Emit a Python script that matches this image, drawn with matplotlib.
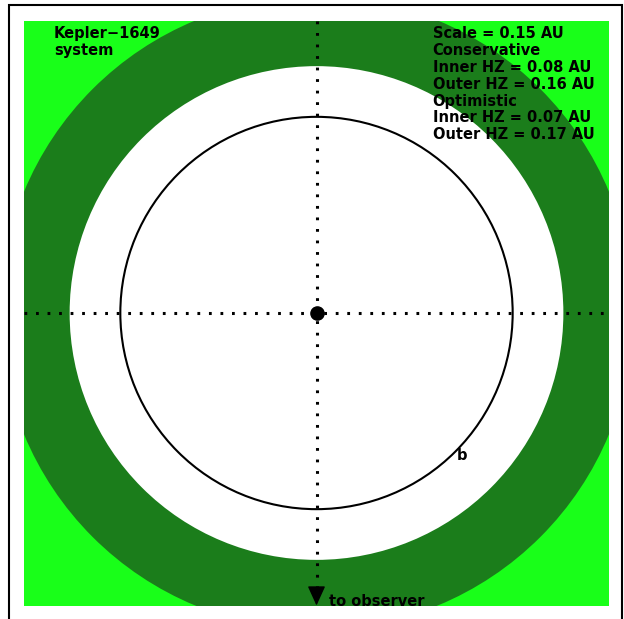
import matplotlib
matplotlib.use("Agg")
import matplotlib.pyplot as plt
from matplotlib.patches import Circle, Rectangle

plt.rcParams['font.family'] = ['DejaVu Sans']
plt.rcParams['lines.scale_dashes'] = False

# ---- data (AU) ----
system_name = "Kepler\u22121649"
scale_au = 0.15
half_width = scale_au / 2
cons_hz = [0.08, 0.16]
opt_hz = [0.07, 0.17]
# drawn radii (AU in plot units)
ring_outer = 0.0812
ring_inner = 0.0633
planet_names = ["b"]
planet_orbits = [0.0503]
planet_label_pos = [(0.0373, -0.0365)]

light_green = "#19ff19"
dark_green = "#1b7d1b"

FS = 10.5
FW = 'bold'

fig = plt.figure(figsize=(6.24, 6.19), dpi=100)
ax = fig.add_axes([24 / 624, 1 - 605.5 / 619, 585 / 624, 585 / 619])
ax.set_xlim(-half_width, half_width)
ax.set_ylim(-half_width, half_width)
ax.set_aspect('auto')
for s in ax.spines.values():
    s.set_visible(False)
ax.set_xticks([])
ax.set_yticks([])
ax.set_facecolor(light_green)

ax.add_patch(Circle((0, 0), ring_outer, color=dark_green, lw=0, zorder=1))
ax.add_patch(Circle((0, 0), ring_inner, color="white", lw=0, zorder=2))
for r in planet_orbits:
    ax.add_patch(Circle((0, 0), r, fill=False, ec="black", lw=1.5, zorder=3))
for name, (px, py) in zip(planet_names, planet_label_pos):
    ax.text(px, py, name, fontsize=FS, fontweight=FW, ha='center',
            va='center', zorder=5)

# dotted axes
arrow_top = -0.0706
ax.plot([-half_width, half_width], [0, 0], color='black', lw=2.2,
        dashes=(2.0, 6.3), dash_capstyle='butt', zorder=4)
ax.plot([0, 0], [half_width, arrow_top], color='black', lw=2.2,
        dashes=(2.0, 6.3), dash_capstyle='butt', zorder=4)
ax.annotate('', xy=(0, -half_width), xytext=(0, arrow_top),
            arrowprops=dict(arrowstyle='-|>,head_length=1.1,head_width=0.5',
                            color='black', lw=1, mutation_scale=11,
                            shrinkA=0, shrinkB=0), zorder=5)
ax.text(0.0032, -half_width, "to observer", fontsize=FS, fontweight=FW,
        ha='left', va='baseline', zorder=5)

# star
ax.plot([0], [0], 'o', color='black', ms=9.5, zorder=6)

# labels
ax.text(-0.0673, 0.0735, system_name + "\nsystem", fontsize=FS,
        fontweight=FW, ha='left', va='top', linespacing=1.15, zorder=5)
info = (f"Scale = {scale_au:.2f} AU\nConservative\n"
        f"Inner HZ = {cons_hz[0]:.2f} AU\nOuter HZ = {cons_hz[1]:.2f} AU\n"
        f"Optimistic\nInner HZ = {opt_hz[0]:.2f} AU\nOuter HZ = {opt_hz[1]:.2f} AU")
ax.text(0.0298, 0.0735, info, fontsize=FS, fontweight=FW, ha='left',
        va='top', linespacing=1.15, zorder=5)

# outer frame
fig.add_artist(Rectangle((9 / 624, -0.1), (622 - 9) / 624, 1.1 - 5 / 619,
                         fill=False, ec='black', lw=1.5,
                         transform=fig.transFigure))

fig.savefig("out.png", dpi=100)
